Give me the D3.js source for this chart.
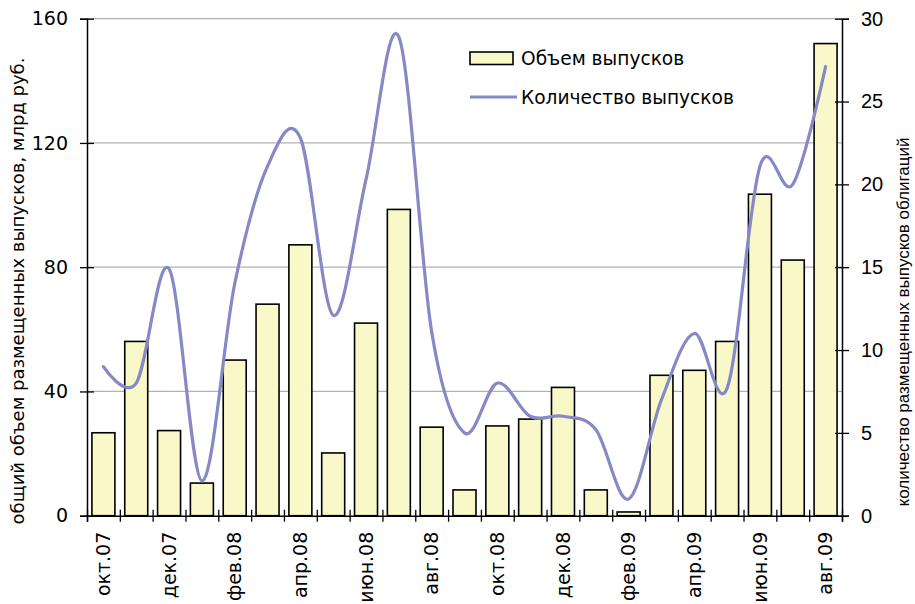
<!DOCTYPE html>
<html>
<head>
<meta charset="utf-8">
<script src="https://cdn.jsdelivr.net/npm/d3@7"></script>
<style>
  html, body { margin: 0; padding: 0; background: #fff; }
  svg { display: block; }
</style>
</head>
<body>
<svg id="chart" width="915" height="604"></svg>
<script>
// Месяцы (окт.07 – авг.09)
const months = ["окт.07","ноя.07","дек.07","янв.08","фев.08","мар.08","апр.08","май.08",
  "июн.08","июл.08","авг.08","сен.08","окт.08","ноя.08","дек.08","янв.09","фев.09",
  "мар.09","апр.09","май.09","июн.09","июл.09","авг.09"];

// Объем выпусков, млрд руб. (левая ось)
const volume = [26.7, 56.1, 27.4, 10.5, 50.1, 68.1, 87.2, 20.2, 62.0, 98.6, 28.5, 8.3,
  28.9, 31.1, 41.3, 8.3, 1.2, 45.2, 46.8, 56.1, 103.5, 82.3, 152.0];

// Количество выпусков (правая ось)
const issues = [9.0, 8.0, 14.9, 2.1, 14.0, 21.1, 22.8, 12.1, 20.3, 28.9, 11.1, 5.0,
  8.0, 6.0, 6.0, 5.2, 1.0, 7.0, 11.0, 7.7, 21.1, 20.0, 27.1];

// Подписи осей
const leftTicks = [0, 40, 80, 120, 160];
const rightTicks = [0, 5, 10, 15, 20, 25, 30];
const labelledMonths = ["окт.07","дек.07","фев.08","апр.08","июн.08","авг.08",
  "окт.08","дек.08","фев.09","апр.09","июн.09","авг.09"];

const seriesNames = ["Объем выпусков", "Количество выпусков"];
const leftTitle = "общий объем размещенных выпусков, млрд руб.";
const rightTitle = "количество размещенных выпусков облигаций";

const svg = d3.select("#chart");
const plotLeft = 87, plotRight = 842, plotTop = 18.7, plotBottom = 515.7;

const geo = "'DejaVu Sans', 'Noto Sans', sans-serif";
const arial = "'Liberation Sans', Arial, sans-serif";
const barFill = "#f8f8c8";
const lineColor = "#8589c5";

const x = d3.scaleBand().domain(months).range([plotLeft, plotRight])
  .paddingInner(0.3).paddingOuter(0.15);
const xEdge = d3.scaleLinear().domain([0, months.length]).range([plotLeft, plotRight]);
const yL = d3.scaleLinear().domain([0, 160]).range([plotBottom, plotTop]);
const yR = d3.scaleLinear().domain([0, 30]).range([plotBottom, plotTop]);

// Горизонтальные линии сетки
svg.append("g")
  .selectAll("line")
  .data(leftTicks.filter(d => d > 0))
  .join("line")
  .attr("x1", plotLeft).attr("x2", plotRight)
  .attr("y1", d => yL(d)).attr("y2", d => yL(d))
  .attr("stroke", "#b2b2b2").attr("stroke-width", 1.3);

// Столбцы
svg.append("g")
  .selectAll("rect")
  .data(months.map((m, i) => ({ m, v: volume[i] })))
  .join("rect")
  .attr("x", d => x(d.m))
  .attr("y", d => yL(d.v))
  .attr("width", x.bandwidth())
  .attr("height", d => plotBottom - yL(d.v))
  .attr("fill", barFill)
  .attr("stroke", "#000")
  .attr("stroke-width", 1.6);

// Сглаженная линия количества выпусков
const line = d3.line()
  .x((d, i) => x(months[i]) + x.bandwidth() / 2)
  .y(d => yR(d))
  .curve(d3.curveCardinal.tension(0));
svg.append("path")
  .datum(issues)
  .attr("d", line)
  .attr("fill", "none")
  .attr("stroke", lineColor)
  .attr("stroke-width", 3.2)
  .attr("stroke-linejoin", "round")
  .attr("stroke-linecap", "round");

// Левая ось
const axL = svg.append("g").attr("transform", `translate(${plotLeft},0)`)
  .call(d3.axisLeft(yL).tickValues(leftTicks).tickSize(7).tickPadding(12));
axL.select(".domain").attr("stroke", "#000").attr("stroke-width", 1.5);
axL.selectAll(".tick line").attr("x1", 7).attr("x2", -7).attr("stroke", "#000").attr("stroke-width", 1.3);
axL.selectAll(".tick text").attr("font-family", geo).attr("font-size", 19).attr("fill", "#000");

// Правая ось
const axR = svg.append("g").attr("transform", `translate(${plotRight},0)`)
  .call(d3.axisRight(yR).tickValues(rightTicks).tickSize(7).tickPadding(12));
axR.select(".domain").attr("stroke", "#000").attr("stroke-width", 1.5);
axR.selectAll(".tick line").attr("x1", -7).attr("x2", 7).attr("stroke", "#000").attr("stroke-width", 1.3);
axR.selectAll(".tick text").attr("font-family", arial).attr("font-size", 20).attr("fill", "#000");

// Нижняя ось: засечки на границах месяцев
const axB = svg.append("g").attr("transform", `translate(0,${plotBottom})`)
  .call(d3.axisBottom(xEdge).tickValues(d3.range(months.length + 1)).tickSize(6).tickFormat(""));
axB.select(".domain").attr("stroke", "#000").attr("stroke-width", 1.5);
axB.selectAll(".tick line").attr("y1", -6).attr("y2", 6).attr("stroke", "#000").attr("stroke-width", 1.3);

// Подписи месяцев
const axLab = svg.append("g").attr("transform", `translate(0,${plotBottom})`)
  .call(d3.axisBottom(x).tickValues(labelledMonths).tickSize(0).tickPadding(0));
axLab.select(".domain").remove();
axLab.selectAll(".tick text")
  .attr("font-family", geo).attr("font-size", 19).attr("fill", "#000")
  .attr("transform", "rotate(-90)")
  .attr("text-anchor", "end")
  .attr("x", -16).attr("y", 0).attr("dy", "0.35em");

// Заголовки осей
svg.append("text")
  .attr("transform", "translate(18,291) rotate(-90)")
  .attr("text-anchor", "middle").attr("dy", "0.35em")
  .attr("font-family", geo).attr("font-size", 18)
  .text(leftTitle);
svg.append("text")
  .attr("transform", "translate(903,322) rotate(-90)")
  .attr("text-anchor", "middle").attr("dy", "0.35em")
  .attr("font-family", "'Liberation Sans Narrow', " + arial).attr("font-size", 17)
  .text(rightTitle);

// Легенда
const lg = svg.append("g");
lg.append("rect").attr("x", 470).attr("y", 52).attr("width", 43).attr("height", 12.5)
  .attr("fill", barFill).attr("stroke", "#000").attr("stroke-width", 1.6);
lg.append("line").attr("x1", 470).attr("x2", 517).attr("y1", 97).attr("y2", 97)
  .attr("stroke", lineColor).attr("stroke-width", 3.2);
lg.selectAll("text.lg").data(seriesNames).join("text")
  .attr("class", "lg")
  .attr("x", 521).attr("y", (d, i) => 58 + i * 39).attr("dy", "0.35em")
  .attr("font-family", geo).attr("font-size", 18.6)
  .text(d => d);
</script>
</body>
</html>
